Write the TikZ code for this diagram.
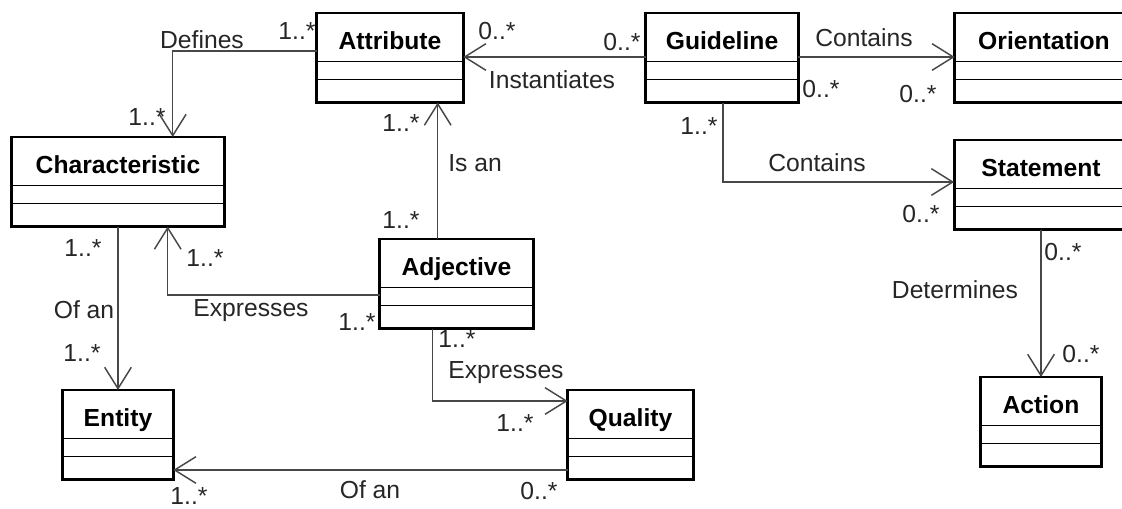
\documentclass[tikz,border=0pt]{standalone}
\usepackage{fontspec}
\setmainfont{Liberation Sans}
\usetikzlibrary{arrows.meta,calc}

\begin{document}
\begin{tikzpicture}[x=0.75pt,y=0.75pt,yscale=-1,xscale=1,
  clshead/.style={anchor=north, inner sep=0pt, text height=27pt, text depth=9pt, font=\fontsize{18.5}{22}\selectfont\bfseries},
  classborder/.style={line width=2.2pt},
  splitline/.style={line width=1pt},
  assoc/.style={draw=black!72, line width=1.1pt, -{Straight Barb[length=16pt,width=20pt]}},
  lbl/.style={inner sep=0pt, text=black!85, font=\fontsize{18.5}{22}\selectfont}]
\useasboundingbox (0,0) rectangle (1122,509);

% classes (the node is the name compartment)
\node[clshead, minimum width=109.5pt] (attr) at (390,13) {Attribute};
\node[clshead, minimum width=159pt] (char) at (118,137) {Characteristic};
\node[clshead, minimum width=114pt] (guide) at (722,13) {Guideline};
\node[clshead, minimum width=133.5pt] (orient) at (1044,13) {Orientation};
\node[clshead, minimum width=130pt] (stmt) at (1041,140) {Statement};
\node[clshead, minimum width=114.75pt] (adj) at (456.5,239) {Adjective};
\node[clshead, minimum width=82.5pt] (ent) at (118,390) {Entity};
\node[clshead, minimum width=93.75pt] (qual) at (630.5,390) {Quality};
\node[clshead, minimum width=90pt] (act) at (1041,377) {Action};
\foreach \c in {attr,char,guide,orient,stmt,adj,ent,qual,act}{
  \draw[splitline] (\c.south west) -- (\c.south east);
  \draw[splitline] ($(\c.south west)+(0,18)$) -- ($(\c.south east)+(0,18)$);
  \draw[classborder] (\c.north west) rectangle ($(\c.south east)+(0,41)$);
}

% associations
\coordinate (defs) at ($(attr.north west)+(0,38)$);
\coordinate (defe) at ($(char.north west)+(161,0)$);
\draw[assoc] (defs) -| (defe);
\coordinate (inst) at ($(guide.north west)+(0,44)$);
\draw[assoc] (inst) -- (inst -| attr.east);
\coordinate (cono) at ($(guide.north east)+(0,44)$);
\draw[assoc] (cono) -- (cono -| orient.west);
\coordinate (guidebot) at ($(guide.south)+(1,41)$);
\coordinate (cons) at ($(stmt.north west)+(0,42)$);
\draw[assoc] (guidebot) |- (cons);
\coordinate (stmtbot) at ($(stmt.south)+(0,41)$);
\draw[assoc] (stmtbot -| act.north) -- (act.north);
\coordinate (isan) at ($(adj.north west)+(58,0)$);
\coordinate (attrbot) at ($(attr.south)+(0,41)$);
\draw[assoc] (isan) -- (isan |- attrbot);
\coordinate (exc) at ($(adj.north west)+(0,56)$);
\coordinate (excend) at ($(char.south west)+(156,41)$);
\draw[assoc] (exc) -| (excend);
\coordinate (charbot) at ($(char.south)+(0,41)$);
\draw[assoc] (charbot) -- (ent.north);
\coordinate (exq) at ($(adj.south west)+(53,41)$);
\coordinate (exqend) at ($(qual.north west)+(0,11)$);
\draw[assoc] (exq) |- (exqend);
\coordinate (ofq) at ($(qual.north west)+(0,80)$);
\draw[assoc] (ofq) -- (ofq -| ent.east);

% role names and multiplicities
\node[lbl] (defines) at (202,40) {Defines};
\node[lbl] (mDefA) at (297,31) {1..*};
\node[lbl] (mDefC) at (147,117) {1..*};
\node[lbl] (isanlbl) at (475,163) {Is an};
\node[lbl] (mIsA) at (401,123) {1..*};
\node[lbl] (mIsB) at (401,220) {1..*};
\node[lbl] (instlbl) at (552,80) {Instantiates};
\node[lbl] (mInA) at (497,31) {0..*};
\node[lbl] (mInG) at (622,42) {0..*};
\node[lbl] (contO) at (864,38) {Contains};
\node[lbl] (mCoG) at (821,89) {0..*};
\node[lbl] (mCoO) at (918,94) {0..*};
\node[lbl] (contS) at (817,163) {Contains};
\node[lbl] (mCsG) at (699,126) {1..*};
\node[lbl] (mCsS) at (921,214) {0..*};
\node[lbl] (determ) at (955,290) {Determines};
\node[lbl] (mDeS) at (1063,252) {0..*};
\node[lbl] (mDeA) at (1081,354) {0..*};
\node[lbl] (ofanL) at (84,310) {Of an};
\node[lbl] (mOfC) at (83,248) {1..*};
\node[lbl] (mOfE) at (82,353) {1..*};
\node[lbl] (exprC) at (251,311) {Expresses};
\node[lbl] (mExC) at (205,258) {1..*};
\node[lbl] (mExA) at (357,322) {1..*};
\node[lbl] (exprQ) at (506,373) {Expresses};
\node[lbl] (mEqA) at (457,339) {1..*};
\node[lbl] (mEqQ) at (515,423) {1..*};
\node[lbl] (ofanB) at (370,490) {Of an};
\node[lbl] (mOqQ) at (539,491) {0..*};
\node[lbl] (mOqE) at (189,496) {1..*};
\end{tikzpicture}
\end{document}
